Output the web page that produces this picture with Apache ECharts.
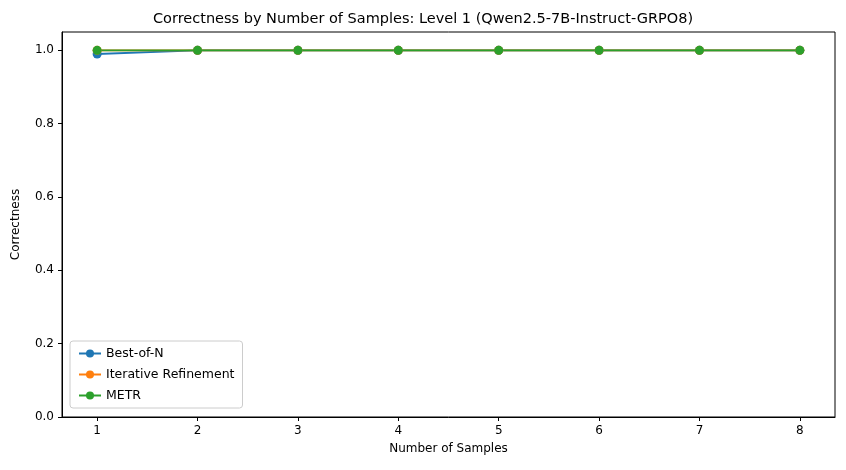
<!DOCTYPE html>
<html>
<head>
<meta charset="utf-8">
<script src="https://cdn.jsdelivr.net/npm/echarts@6/dist/echarts.min.js"></script>
<style>body{margin:0}#c{width:846px;height:470px}</style>
</head>
<body>
<div id="c"></div>
<script>
var samples = [1, 2, 3, 4, 5, 6, 7, 8];
var bestOfN = [0.99, 1, 1, 1, 1, 1, 1, 1];
var iterRefine = [1, 1, 1, 1, 1, 1, 1, 1];
var metr = [1, 1, 1, 1, 1, 1, 1, 1];
var yTicks = [0, 0.2, 0.4, 0.6, 0.8, 1.0];

function pairs(v) {
    return samples.map(function (s, i) { return [s, v[i]]; });
}
function line(name, color, v) {
    return {
        name: name, type: 'line', data: pairs(v), symbol: 'circle', symbolSize: 9,
        itemStyle: {color: color}, lineStyle: {color: color, width: 1.8}
    };
}
var font = 'DejaVu Sans';
var chart = echarts.init(document.getElementById('c'));
chart.setOption({
    animation: false,
    textStyle: {fontFamily: font},
    title: {
        text: 'Correctness by Number of Samples: Level 1 (Qwen2.5-7B-Instruct-GRPO8)',
        left: 'center', top: 7,
        textStyle: {fontSize: 14.5, fontWeight: 'normal', color: '#000', fontFamily: font}
    },
    grid: {left: 62, right: 11, top: 32, bottom: 53, show: true, borderColor: '#000', borderWidth: 1},
    xAxis: {
        type: 'value', min: 0.65, max: 8.35, interval: 1,
        name: 'Number of Samples', nameLocation: 'middle', nameGap: 26,
        nameTextStyle: {fontSize: 12, color: '#000'},
        axisLine: {lineStyle: {color: '#000'}},
        splitLine: {show: false},
        axisLabel: {
            color: '#000', fontSize: 12,
            customValues: samples,
            formatter: function (v) { return Number.isInteger(v) ? v : ''; }
        },
        axisTick: {show: true, length: 4, customValues: samples, lineStyle: {color: '#000'}}
    },
    yAxis: {
        type: 'value', min: 0, max: 1.05,
        name: 'Correctness', nameLocation: 'middle', nameGap: 40,
        nameTextStyle: {fontSize: 12, color: '#000'},
        axisLine: {show: true, lineStyle: {color: '#000'}},
        splitLine: {show: false},
        axisLabel: {
            color: '#000', fontSize: 12, customValues: yTicks,
            formatter: function (v) { return v.toFixed(1); }
        },
        axisTick: {show: true, length: 4, customValues: yTicks, lineStyle: {color: '#000'}}
    },
    legend: {
        orient: 'vertical', left: 70, bottom: 62,
        itemWidth: 22, itemHeight: 10, itemGap: 8,
        padding: [6, 8], borderColor: '#ccc', borderWidth: 1, borderRadius: 3,
        textStyle: {fontSize: 12.5, color: '#000'},
        data: ['Best-of-N', 'Iterative Refinement', 'METR']
    },
    series: [
        line('Best-of-N', '#1f77b4', bestOfN),
        line('Iterative Refinement', '#ff7f0e', iterRefine),
        line('METR', '#2ca02c', metr)
    ]
});
</script>
</body>
</html>
